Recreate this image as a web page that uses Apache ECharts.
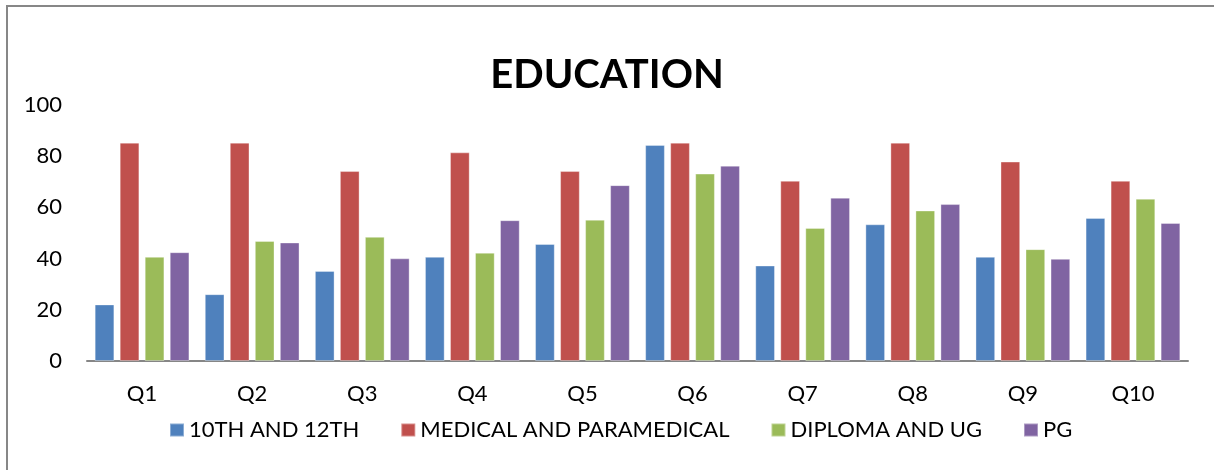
<!DOCTYPE html>
<html>
<head>
<meta charset="utf-8">
<title>EDUCATION</title>
<script src="https://cdn.jsdelivr.net/npm/echarts@6/dist/echarts.min.js"></script>
<style>
  html, body { margin: 0; padding: 0; background: #ffffff; }
  #chart { width: 1214px; height: 470px; }
</style>
</head>
<body>
<div id="chart"></div>
<script>
// Survey questions on the category axis
const categories = ['Q1', 'Q2', 'Q3', 'Q4', 'Q5', 'Q6', 'Q7', 'Q8', 'Q9', 'Q10'];

// Scores per education group
const tenthTwelfth = [22.1, 26.1, 35.2, 40.7, 45.7, 84.4, 37.3, 53.4, 40.7, 55.9];
const medicalParamedical = [85.3, 85.3, 74.2, 81.5, 74.2, 85.3, 70.4, 85.3, 77.9, 70.4];
const diplomaUg = [40.7, 46.9, 48.5, 42.3, 55.2, 73.2, 52.0, 58.8, 43.7, 63.4];
const pg = [42.5, 46.3, 40.1, 55.0, 68.7, 76.3, 63.8, 61.3, 39.9, 53.9];

const seriesNames = ['10TH AND 12TH', 'MEDICAL AND PARAMEDICAL', 'DIPLOMA AND UG', 'PG'];
const seriesValues = [tenthTwelfth, medicalParamedical, diplomaUg, pg];
const seriesColors = ['#4F81BD', '#C0504D', '#9BBB59', '#8064A2'];

// Value axis ticks
const yMin = 0;
const yMax = 100;
const yStep = 20;

const font = 'Lato, "Noto Sans", sans-serif';

const chart = echarts.init(document.getElementById('chart'), null, { renderer: 'canvas' });

chart.setOption({
  animation: false,
  backgroundColor: '#ffffff',
  title: {
    text: 'EDUCATION',
    left: 'center',
    top: 50,
    textStyle: { fontFamily: font, fontSize: 40, fontWeight: 'bold', color: '#000000' }
  },
  legend: {
    data: seriesNames,
    left: 164,
    top: 414,
    icon: 'rect',
    itemWidth: 14,
    itemHeight: 13,
    itemGap: 41,
    textStyle: { fontFamily: font, fontSize: 22, color: '#000000' }
  },
  grid: { left: 87, right: 26, top: 105, bottom: 109, containLabel: false },
  xAxis: {
    type: 'category',
    data: categories,
    axisLine: { lineStyle: { color: '#868686', width: 2 } },
    axisTick: { show: false },
    axisLabel: { fontFamily: font, fontSize: 22, color: '#000000', margin: 22 }
  },
  yAxis: {
    type: 'value',
    min: yMin,
    max: yMax,
    interval: yStep,
    axisLine: { show: false },
    axisTick: { show: false },
    splitLine: { show: false },
    axisLabel: { fontFamily: font, fontSize: 22, color: '#000000', margin: 25 }
  },
  series: seriesNames.map((name, i) => ({
    name: name,
    type: 'bar',
    data: seriesValues[i],
    barWidth: 19.7,
    barGap: '27%',
    itemStyle: { color: seriesColors[i], borderColor: 'rgba(255,255,255,0.35)', borderWidth: 1 }
  })),
  graphic: [
    {
      type: 'polyline',
      silent: true,
      shape: { points: [[7, 470], [7, 6], [1214, 6]] },
      style: { stroke: '#878787', lineWidth: 2, fill: null }
    }
  ]
});
</script>
</body>
</html>
